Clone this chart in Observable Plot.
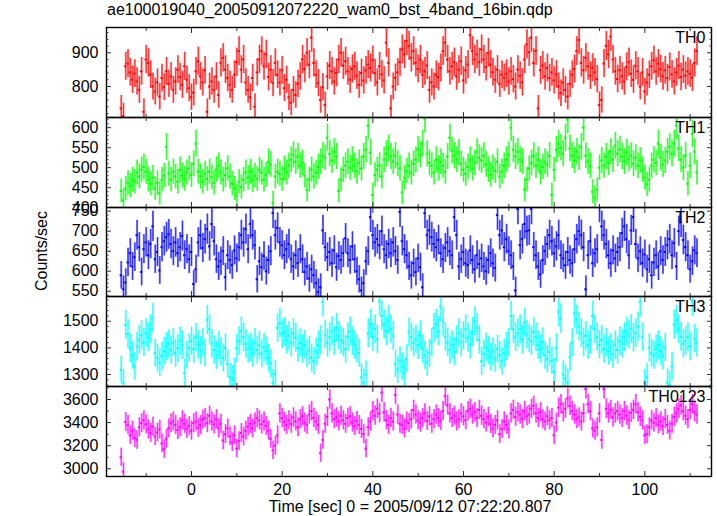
<!DOCTYPE html>
<html>
<head>
<meta charset="utf-8">
<script src="https://cdn.jsdelivr.net/npm/d3@7"></script>
<script src="https://cdn.jsdelivr.net/npm/@observablehq/plot@0.6"></script>
<style>
  html, body { margin: 0; padding: 0; background: #fff; }
  #chart { position: relative; width: 717px; height: 516px; font-family: "Liberation Sans", Arial, Helvetica, sans-serif; color: #000; }
  #chart svg { position: absolute; left: 0; overflow: visible; }
  .title { position: absolute; left: 107px; top: 0px; font-size: 16px; line-height: 20px; white-space: nowrap; }
  .xtitle { position: absolute; left: 410px; top: 497px; transform: translateX(-50%); font-size: 16px; line-height: 20px; white-space: nowrap; }
  .ytitle { position: absolute; left: 42px; top: 251px; transform: translate(-50%, -50%) rotate(-90deg); font-size: 16px; line-height: 20px; white-space: nowrap; }
</style>
</head>
<body>
<div id="chart">
  <div class="title">ae100019040_20050912072220_wam0_bst_4band_16bin.qdp</div>
  <div class="ytitle">Counts/sec</div>
  <div class="xtitle">Time [sec] 0 = 2005/09/12 07:22:20.807</div>
</div>
<script>
// ---- time binning (0.5 s bins) ----
const T0 = -15.5;
const DT = 0.5;

// ---- series values (counts/sec), one per 0.5 s bin ----
const th0 = [
735, 712, 860, 868, 842, 820, 838, 815, 790, 845,
725, 880, 870, 835, 800, 785, 812, 770, 825, 798,
845, 808, 830, 790, 815, 850, 828, 805, 860, 820,
795, 768, 782, 845, 875, 830, 812, 848, 725, 800,
815, 790, 830, 775, 870, 885, 850, 825, 805, 790,
835, 872, 905, 850, 880, 812, 790, 768, 825, 740,
842, 880, 905, 860, 895, 828, 850, 810, 870, 835,
812, 848, 795, 820, 768, 752, 790, 775, 808, 830,
880, 852, 900, 865, 945, 870, 835, 810, 760, 798,
745, 830, 862, 845, 815, 840, 880, 900, 862, 875,
845, 820, 852, 860, 832, 805, 840, 818, 848, 865,
855, 878, 840, 812, 860, 836, 818, 930, 870, 735,
800, 826, 842, 872, 910, 895, 935, 920, 885, 905,
870, 852, 880, 835, 845, 862, 790, 812, 800, 835,
828, 855, 905, 930, 880, 845, 860, 872, 830, 850,
875, 818, 848, 865, 952, 905, 880, 895, 872, 910,
880, 858, 900, 865, 842, 820, 850, 808, 835, 826,
838, 815, 845, 822, 800, 850, 832, 812, 880, 925,
902, 945, 870, 905, 735, 848, 862, 830, 855, 825,
842, 818, 836, 800, 780, 812, 790, 770, 808, 835,
852, 905, 938, 870, 848, 885, 860, 832, 856, 842,
822, 745, 760, 868, 920, 895, 948, 880, 845, 822,
848, 830, 815, 858, 872, 838, 820, 862, 845, 800,
842, 785, 812, 835, 860, 878, 845, 868, 852, 830,
848, 825, 858, 836, 815, 842, 862, 828, 850, 832,
845, 838, 826, 870, 905
];
const th1 = [
442, 418, 448, 462, 455, 470, 465, 488, 478, 495,
502, 490, 470, 460, 475, 448, 462, 436, 470, 480,
552, 485, 470, 490, 478, 465, 495, 480, 472, 488,
498, 482, 510, 560, 490, 478, 465, 485, 472, 490,
476, 462, 495, 505, 488, 470, 482, 498, 478, 460,
448, 430, 465, 452, 470, 488, 475, 490, 468, 480,
472, 495, 488, 470, 482, 515, 508, 412, 478, 490,
485, 472, 498, 488, 505, 520, 532, 515, 528, 505,
512, 480, 445, 470, 495, 478, 488, 502, 515, 530,
525, 575, 535, 518, 540, 528, 442, 470, 495, 505,
515, 500, 520, 505, 490, 512, 498, 528, 545, 605,
538, 432, 482, 495, 505, 478, 520, 535, 548, 528,
515, 530, 510, 498, 438, 475, 492, 505, 488, 510,
520, 545, 532, 560, 622, 535, 512, 505, 488, 520,
498, 515, 505, 490, 528, 575, 542, 530, 520, 538,
510, 495, 485, 502, 520, 498, 512, 540, 525, 518,
530, 508, 495, 482, 500, 492, 515, 478, 490, 505,
520, 532, 600, 545, 528, 540, 520, 515, 445, 470,
498, 512, 530, 505, 520, 488, 502, 515, 508, 530,
432, 495, 545, 560, 550, 535, 575, 620, 548, 530,
518, 540, 525, 552, 600, 530, 515, 505, 440, 425,
445, 500, 518, 505, 528, 512, 540, 520, 555, 535,
545, 528, 515, 538, 522, 530, 510, 525, 505, 518,
495, 475, 458, 470, 505, 520, 512, 560, 525, 508,
518, 540, 552, 535, 560, 605, 548, 520, 500, 530,
460, 505, 585, 540, 488
];
const th2 = [
590, 555, 572, 622, 645, 612, 635, 690, 660, 598,
655, 672, 640, 668, 712, 630, 648, 602, 660, 675,
685, 692, 668, 650, 672, 645, 660, 688, 640, 655,
630, 648, 568, 605, 672, 690, 658, 680, 705, 662,
718, 675, 630, 612, 625, 650, 585, 640, 628, 615,
652, 632, 660, 690, 672, 705, 655, 718, 690, 665,
580, 625, 610, 638, 600, 628, 650, 745, 690, 708,
672, 665, 640, 655, 668, 630, 612, 640, 620, 655,
630, 598, 612, 582, 605, 590, 570, 548, 560, 702,
660, 635, 648, 620, 652, 610, 638, 628, 645, 682,
645, 628, 662, 630, 600, 580, 552, 570, 625, 650,
735, 690, 672, 680, 665, 700, 655, 640, 668, 645,
672, 650, 628, 748, 675, 655, 640, 612, 590, 620,
598, 632, 610, 560, 745, 690, 702, 685, 668, 660,
678, 645, 630, 658, 672, 650, 640, 735, 690, 612,
630, 648, 620, 615, 652, 628, 605, 640, 618, 632,
612, 600, 628, 645, 620, 608, 740, 690, 702, 660,
680, 650, 640, 612, 552, 755, 665, 680, 718, 700,
702, 755, 660, 640, 612, 592, 628, 650, 668, 690,
675, 645, 662, 690, 640, 632, 615, 648, 628, 620,
655, 680, 700, 690, 660, 555, 640, 675, 620, 645,
655, 760, 712, 690, 668, 640, 620, 652, 632, 648,
660, 695, 712, 680, 640, 702, 735, 668, 632, 650,
620, 642, 605, 630, 590, 622, 640, 612, 650, 628,
648, 665, 680, 640, 670, 612, 700, 722, 678, 660,
640, 605, 625, 652, 645
];
const th3 = [
1318, 1268, 1486, 1452, 1398, 1372, 1330, 1405, 1430, 1448,
1420, 1455, 1440, 1470, 1512, 1380, 1362, 1345, 1370, 1388,
1405, 1415, 1392, 1420, 1380, 1398, 1425, 1410, 1306, 1372,
1400, 1425, 1395, 1438, 1412, 1390, 1420, 1380, 1505, 1470,
1415, 1392, 1372, 1408, 1385, 1362, 1400, 1340, 1290, 1282,
1310, 1398, 1425, 1462, 1440, 1415, 1395, 1402, 1380, 1420,
1392, 1410, 1378, 1402, 1388, 1362, 1340, 1268, 1302, 1475,
1492, 1452, 1460, 1430, 1445, 1420, 1455, 1438, 1400, 1418,
1395, 1412, 1378, 1390, 1362, 1350, 1385, 1410, 1430, 1572,
1450, 1418, 1440, 1462, 1425, 1475, 1445, 1430, 1420, 1395,
1440, 1462, 1425, 1410, 1395, 1380, 1290, 1270, 1300, 1455,
1490, 1440, 1470, 1432, 1575, 1520, 1488, 1462, 1505, 1470,
1445, 1340, 1318, 1352, 1330, 1305, 1360, 1458, 1440, 1420,
1432, 1410, 1448, 1395, 1372, 1345, 1380, 1420, 1475, 1490,
1462, 1555, 1498, 1440, 1420, 1392, 1410, 1385, 1430, 1455,
1420, 1445, 1470, 1438, 1412, 1460, 1500, 1475, 1430, 1350,
1378, 1402, 1390, 1365, 1385, 1360, 1395, 1372, 1350, 1380,
1405, 1420, 1520, 1470, 1440, 1455, 1470, 1430, 1495, 1450,
1435, 1425, 1460, 1440, 1410, 1395, 1422, 1372, 1358, 1385,
1352, 1310, 1400, 1535, 1510, 1300, 1285, 1270, 1365, 1420,
1530, 1505, 1480, 1455, 1420, 1445, 1410, 1430, 1520, 1470,
1440, 1412, 1430, 1395, 1420, 1388, 1402, 1375, 1410, 1392,
1425, 1415, 1440, 1462, 1450, 1470, 1438, 1455, 1480, 1572,
1440, 1268, 1290, 1400, 1380, 1372, 1395, 1410, 1388, 1370,
1402, 1270, 1262, 1330, 1488, 1505, 1470, 1442, 1415, 1425,
1440, 1405, 1575, 1435, 1418
];
const th0123 = [
3100, 2975, 3405, 3380, 3290, 3330, 3265, 3250, 3360, 3395,
3420, 3385, 3340, 3310, 3365, 3280, 3315, 3340, 3220, 3170,
3260, 3350, 3395, 3410, 3380, 3335, 3360, 3420, 3390, 3345,
3370, 3330, 3395, 3410, 3355, 3380, 3425, 3440, 3395, 3460,
3410, 3385, 3430, 3350, 3390, 3245, 3300, 3350, 3280, 3230,
3290, 3175, 3240, 3310, 3280, 3330, 3365, 3390, 3350, 3400,
3440, 3420, 3385, 3410, 3370, 3330, 3260, 3160, 3200, 3290,
3480, 3440, 3405, 3380, 3420, 3390, 3445, 3410, 3360, 3430,
3455, 3400, 3380, 3470, 3500, 3440, 3410, 3380, 3135, 3250,
3390, 3450, 3600, 3480, 3430, 3445, 3410, 3460, 3420, 3390,
3440, 3455, 3400, 3370, 3415, 3380, 3345, 3300, 3175, 3360,
3410, 3500, 3460, 3520, 3480, 3660, 3490, 3420, 3380, 3440,
3410, 3640, 3470, 3390, 3380, 3350, 3410, 3395, 3430, 3510,
3470, 3420, 3400, 3440, 3480, 3415, 3455, 3390, 3430, 3470,
3440, 3415, 3500, 3630, 3550, 3480, 3440, 3460, 3410, 3430,
3480, 3455, 3420, 3500, 3520, 3470, 3490, 3440, 3510, 3460,
3430, 3400, 3450, 3390, 3350, 3380, 3420, 3300, 3345, 3410,
3380, 3340, 3480, 3510, 3450, 3490, 3470, 3430, 3500, 3455,
3470, 3520, 3545, 3480, 3440, 3490, 3430, 3410, 3455, 3420,
3440, 3290, 3400, 3530, 3560, 3490, 3520, 3610, 3545, 3500,
3470, 3430, 3445, 3410, 3480, 3690, 3560, 3500, 3350, 3330,
3360, 3480, 3250, 3690, 3520, 3480, 3510, 3445, 3480, 3500,
3470, 3440, 3500, 3460, 3420, 3485, 3510, 3560, 3490, 3450,
3420, 3290, 3300, 3360, 3420, 3400, 3440, 3385, 3410, 3370,
3430, 3380, 3330, 3390, 3450, 3480, 3520, 3550, 3500, 3460,
3430, 3510, 3560, 3490, 3470
];

// ---- panel names, colours, axis ranges and tick values ----
const panelNames = ["TH0", "TH1", "TH2", "TH3", "TH0123"];
const panelSeries = [th0, th1, th2, th3, th0123];
const panelColors = ["#ff0000", "#00ff00", "#0000ff", "#00ffff", "#ff00ff"];
const yDomains = [[708, 975], [400.5, 625.5], [537, 759], [1255, 1593], [2933, 3713]];
const yMajorTicks = [[800, 900], [400, 450, 500, 550, 600], [550, 600, 650, 700, 750], [1300, 1400, 1500], [3000, 3200, 3400, 3600]];
const yMinorStep = [20, 10, 10, 20, 100];
const xDomain = [-18.75, 114.7];
const xMajorTicks = [0, 20, 40, 60, 80, 100];
const xMinorTicks = [-10, 10, 30, 50, 70, 90, 110];

// ---- layout ----
const panelTops = [27, 117, 207, 296, 386];
const panelHeights = [90, 90, 89, 90, 90];

const chart = document.getElementById("chart");

panelSeries.forEach((vals, p) => {
  const color = panelColors[p];
  const table = vals.map((v, i) => {
    const t = T0 + i * DT;
    const e = Math.sqrt(v * DT) / DT; // Poisson error of the binned rate
    return {t, x1: t - DT / 2, x2: t + DT / 2, v, lo: v - e, hi: v + e};
  });
  const [y0, y1] = yDomains[p];
  const inside = yMajorTicks[p].filter(d => d >= y0 && d <= y1);
  const minors = d3.range(Math.ceil(y0 / yMinorStep[p]) * yMinorStep[p], y1, yMinorStep[p])
    .filter(d => !yMajorTicks[p].includes(d));
  const isLast = p === panelSeries.length - 1;

  const marks = [
    Plot.ruleX(table, {x: "t", y1: "lo", y2: "hi", stroke: color, strokeWidth: 2, strokeOpacity: 0.5, clip: true}),
    Plot.ruleX(table, {x: "t", y1: "lo", y2: "hi", stroke: color, strokeWidth: 0.8, strokeOpacity: 0.8, clip: true}),
    Plot.ruleY(table, {y: "v", x1: "x1", x2: "x2", stroke: color, strokeWidth: 2, strokeOpacity: 0.95, clip: true}),
    Plot.frame({stroke: "#000", strokeWidth: 1.4}),
    // y ticks (inward), both sides
    Plot.axisY(inside, {anchor: "left", tickSize: -5, fill: "none", label: null, stroke: "#333"}),
    Plot.axisY(minors, {anchor: "left", tickSize: -2.5, fill: "none", label: null, stroke: "#333"}),
    Plot.axisY(inside, {anchor: "right", tickSize: -5, fill: "none", label: null, stroke: "#333"}),
    Plot.axisY(minors, {anchor: "right", tickSize: -2.5, fill: "none", label: null, stroke: "#333"}),
    // y tick labels
    Plot.axisY(yMajorTicks[p].filter(d => d >= y0 - 1 && d <= y1 + 1), {anchor: "left", tickSize: 0, tickPadding: 8, label: null, fontSize: 16, tickFormat: d => String(d)}),
    // x ticks (inward), top and bottom
    Plot.axisX(xMajorTicks, {anchor: "bottom", tickSize: -5, fill: "none", label: null, stroke: "#333"}),
    Plot.axisX(xMinorTicks, {anchor: "bottom", tickSize: -3, fill: "none", label: null, stroke: "#333"}),
    Plot.axisX(xMajorTicks, {anchor: "top", tickSize: -5, fill: "none", label: null, stroke: "#333"}),
    Plot.axisX(xMinorTicks, {anchor: "top", tickSize: -3, fill: "none", label: null, stroke: "#333"}),
    // panel name
    Plot.text([panelNames[p]], {text: d => d, frameAnchor: "top-right", dx: -6, dy: 4, lineAnchor: "top", textAnchor: "end", fontSize: 16, fill: "#000"})
  ];
  if (isLast) {
    marks.push(Plot.axisX(xMajorTicks, {anchor: "bottom", tickSize: 0, tickPadding: 7, label: null, fontSize: 16, tickFormat: d => String(d)}));
  }

  const svg = Plot.plot({
    width: 717,
    height: panelHeights[p],
    marginLeft: 106,
    marginRight: 6,
    marginTop: 0,
    marginBottom: 0,
    style: {fontFamily: "'Liberation Sans', Arial, Helvetica, sans-serif", fontSize: "16px", background: "transparent", overflow: "visible"},
    x: {domain: xDomain, label: null},
    y: {domain: yDomains[p], label: null},
    marks
  });
  svg.style.position = "absolute";
  svg.style.top = panelTops[p] + "px";
  svg.style.left = "0px";
  chart.appendChild(svg);
});
</script>
</body>
</html>
